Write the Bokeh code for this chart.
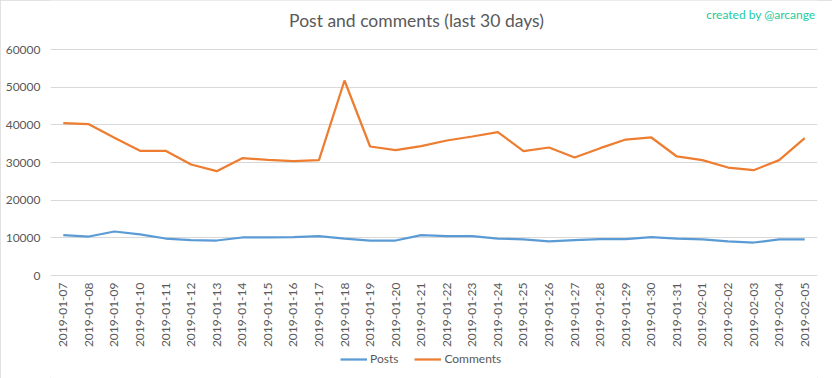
from bokeh.plotting import figure
from bokeh.models import FactorRange, Range1d, FixedTicker, Legend, LegendItem, Label, NumeralTickFormatter
from bokeh.core.properties import value
from bokeh.embed import file_html
from bokeh.resources import INLINE
import math

dates = ["2019-01-07", "2019-01-08", "2019-01-09", "2019-01-10", "2019-01-11", "2019-01-12",
         "2019-01-13", "2019-01-14", "2019-01-15", "2019-01-16", "2019-01-17", "2019-01-18",
         "2019-01-19", "2019-01-20", "2019-01-21", "2019-01-22", "2019-01-23", "2019-01-24",
         "2019-01-25", "2019-01-26", "2019-01-27", "2019-01-28", "2019-01-29", "2019-01-30",
         "2019-01-31", "2019-02-01", "2019-02-02", "2019-02-03", "2019-02-04", "2019-02-05"]
posts = [10700, 10350, 11680, 10890, 9820, 9380, 9290, 10090, 10090, 10180, 10440, 9820,
         9290, 9290, 10700, 10440, 10440, 9820, 9560, 9030, 9380, 9650, 9650, 10180,
         9820, 9560, 9030, 8760, 9560, 9560]
comments = [40430, 40170, 36600, 33100, 33100, 29470, 27700, 31150, 30700, 30350, 30620, 51770,
            34250, 33270, 34330, 35840, 36900, 38050, 33000, 33980, 31330, 33800, 36100, 36640,
            31600, 30620, 28670, 27960, 30620, 36460]
y_ticks = [0, 10000, 20000, 30000, 40000, 50000, 60000]

FONT = "Lato"
GREY = "#595959"

# layout geometry (pixels): the frame fills the whole height so no text is clipped
H = 378
GRID_TOP = 49       # pixel row of the top tick
GRID_BOTTOM = 275   # pixel row of the zero line
per_px = (y_ticks[-1] - y_ticks[0]) / (GRID_BOTTOM - GRID_TOP)
y_start = y_ticks[0] - (H - GRID_BOTTOM) * per_px
y_end = y_ticks[-1] + GRID_TOP * per_px

p = figure(x_range=FactorRange(*dates, range_padding=0), y_range=Range1d(y_start, y_end),
           frame_width=767, frame_height=H, width=832, height=H,
           min_border_left=50, min_border_right=15, min_border_top=0, min_border_bottom=0,
           output_backend="svg", toolbar_location=None)
p.outline_line_color = None
p.styles = {"outline": "1px solid #d9d9d9", "outline-offset": "-1px"}

r1 = p.line(dates, posts, line_color="#5B9BD5", line_width=2.25)
r2 = p.line(dates, comments, line_color="#ED7D31", line_width=2.25)

p.xaxis.visible = False
p.xgrid.grid_line_color = None
p.ygrid.grid_line_color = "#D9D9D9"
p.yaxis.ticker = FixedTicker(ticks=y_ticks)
p.yaxis.formatter = NumeralTickFormatter(format="0")
p.yaxis.axis_line_color = None
p.yaxis.major_tick_line_color = None
p.yaxis.minor_tick_line_color = None
p.yaxis.major_tick_out = 0
p.yaxis.major_label_standoff = 10
p.yaxis.major_label_text_font = FONT
p.yaxis.major_label_text_font_size = "12px"
p.yaxis.major_label_text_color = GREY

# category labels, drawn vertically under the zero line
p.text(x=dates, y=[y_ticks[0]] * len(dates), text=dates, angle=math.pi / 2,
       text_align="right", text_baseline="middle", y_offset=7,
       text_font=value(FONT), text_font_size="12px", text_color=GREY)

p.add_layout(Label(x=366, y=H - 20, x_units="screen", y_units="screen",
                   text="Post and comments (last 30 days)", text_font=FONT,
                   text_font_size="17.5px", text_color=GREY,
                   text_align="center", text_baseline="middle"))
p.add_layout(Label(x=765, y=H - 14, x_units="screen", y_units="screen",
                   text="created by @arcange", text_font=FONT,
                   text_font_size="12px", text_color="#22CCA0",
                   text_align="right", text_baseline="middle"))

legend = Legend(items=[LegendItem(label="Posts", renderers=[r1]),
                       LegendItem(label="Comments", renderers=[r2])],
                orientation="horizontal", location=(290, 12),
                glyph_width=27, glyph_height=10, label_standoff=3, spacing=16,
                label_text_font=FONT, label_text_font_size="12px", label_text_color=GREY,
                background_fill_alpha=0, border_line_color=None, padding=0, margin=0)
p.add_layout(legend, "center")

open("out.html", "w").write(file_html(p, INLINE))
